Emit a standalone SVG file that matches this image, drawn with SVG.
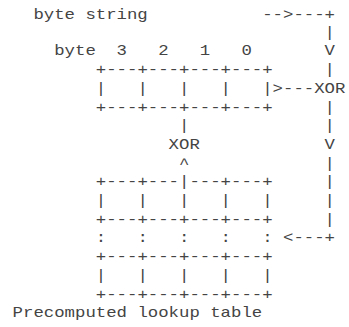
<svg xmlns="http://www.w3.org/2000/svg" width="349" height="327" viewBox="0 0 349 327" xml:space="preserve">
<style>
.t{font-family:"Liberation Mono","Courier New",monospace;font-size:15px;fill:#444;white-space:pre}
</style>
<rect width="349" height="327" fill="#fff"/>
<g id="label-byte-string"><text class="t" x="33.4" y="18.5" textLength="114.4" lengthAdjust="spacingAndGlyphs">byte string</text></g>
<g id="register">
<text class="t" x="54.2" y="55.4" textLength="197.6" lengthAdjust="spacingAndGlyphs">byte  3   2   1   0</text>
<text class="t" x="95.8" y="74.1" textLength="176.8" lengthAdjust="spacingAndGlyphs">+---+---+---+---+</text>
<text class="t" x="95.8" y="92.8" textLength="176.8" lengthAdjust="spacingAndGlyphs">|   |   |   |   |</text>
<text class="t" x="95.8" y="111.5" textLength="176.8" lengthAdjust="spacingAndGlyphs">+---+---+---+---+</text>
</g>
<g id="xor-top"><text class="t" x="314.2" y="92.8" textLength="31.2" lengthAdjust="spacingAndGlyphs">XOR</text></g>
<g id="xor-mid"><text class="t" x="168.6" y="148.9" textLength="31.2" lengthAdjust="spacingAndGlyphs">XOR</text></g>
<g id="lookup-table">
<text class="t" x="95.8" y="186.3" textLength="176.8" lengthAdjust="spacingAndGlyphs">+---+---|---+---+</text>
<text class="t" x="95.8" y="205" textLength="176.8" lengthAdjust="spacingAndGlyphs">|   |   |   |   |</text>
<text class="t" x="95.8" y="223.7" textLength="176.8" lengthAdjust="spacingAndGlyphs">+---+---+---+---+</text>
<text class="t" x="95.8" y="242.4" textLength="176.8" lengthAdjust="spacingAndGlyphs">:   :   :   :   :</text>
<text class="t" x="95.8" y="261.1" textLength="176.8" lengthAdjust="spacingAndGlyphs">+---+---+---+---+</text>
<text class="t" x="95.8" y="279.8" textLength="176.8" lengthAdjust="spacingAndGlyphs">|   |   |   |   |</text>
<text class="t" x="95.8" y="298.5" textLength="176.8" lengthAdjust="spacingAndGlyphs">+---+---+---+---+</text>
</g>
<g id="caption"><text class="t" x="12.6" y="317.2" textLength="249.6" lengthAdjust="spacingAndGlyphs">Precomputed lookup table</text></g>
<g id="connectors">
<text class="t" x="262.2" y="18.5" textLength="72.8" lengthAdjust="spacingAndGlyphs">--&gt;---+</text>
<text class="t" x="324.6" y="36.7" textLength="10.4" lengthAdjust="spacingAndGlyphs">|</text>
<text class="t" x="324.6" y="55.4" textLength="10.4" lengthAdjust="spacingAndGlyphs">V</text>
<text class="t" x="324.6" y="74.1" textLength="10.4" lengthAdjust="spacingAndGlyphs">|</text>
<text class="t" x="272.6" y="92.8" textLength="41.6" lengthAdjust="spacingAndGlyphs">&gt;---</text>
<text class="t" x="324.6" y="111.5" textLength="10.4" lengthAdjust="spacingAndGlyphs">|</text>
<text class="t" x="179" y="130.2" textLength="10.4" lengthAdjust="spacingAndGlyphs">|</text>
<text class="t" x="324.6" y="130.2" textLength="10.4" lengthAdjust="spacingAndGlyphs">|</text>
<text class="t" x="324.6" y="148.9" textLength="10.4" lengthAdjust="spacingAndGlyphs">V</text>
<text class="t" x="179" y="167.6" textLength="10.4" lengthAdjust="spacingAndGlyphs">^</text>
<text class="t" x="324.6" y="167.6" textLength="10.4" lengthAdjust="spacingAndGlyphs">|</text>
<text class="t" x="324.6" y="186.3" textLength="10.4" lengthAdjust="spacingAndGlyphs">|</text>
<text class="t" x="324.6" y="205" textLength="10.4" lengthAdjust="spacingAndGlyphs">|</text>
<text class="t" x="324.6" y="223.7" textLength="10.4" lengthAdjust="spacingAndGlyphs">|</text>
<text class="t" x="283" y="242.4" textLength="52" lengthAdjust="spacingAndGlyphs">&lt;---+</text>
</g>
</svg>
